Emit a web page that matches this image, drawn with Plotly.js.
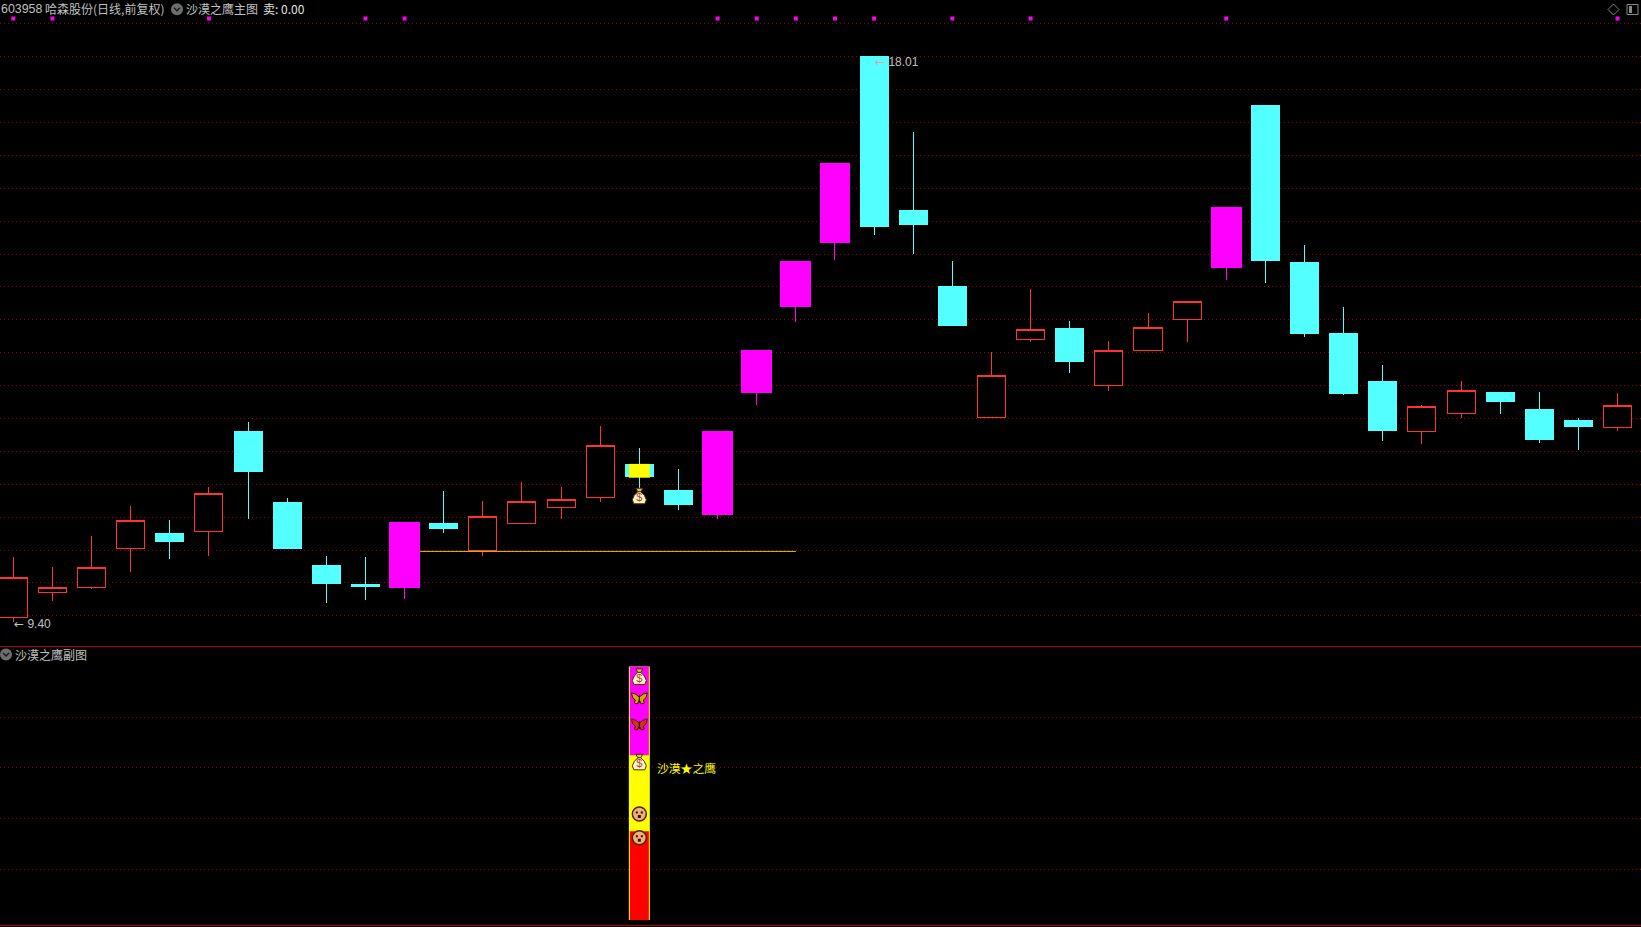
<!DOCTYPE html>
<html>
<head>
<meta charset="utf-8">
<script src="https://cdn.plot.ly/plotly-3.0.1.min.js"></script>
<style>html,body{margin:0;padding:0;background:#000;overflow:hidden}#chart{width:1641px;height:927px}
.trace.boxes path{stroke-linejoin:miter !important;shape-rendering:crispEdges}
.barlayer path{shape-rendering:crispEdges}
</style>
</head>
<body>
<div id="chart"></div>
<script>
// ---- main panel data (daily candles, forward-adjusted prices) ----
const tops    = [10.09,9.93,10.24,10.95,10.76,11.36,12.31,11.23,10.27,9.98,10.93,10.91,11.01,11.24,11.27,12.09,11.81,11.41,12.31,13.54,14.89,16.38,18.01,15.67,14.51,13.16,13.86,13.88,13.54,13.89,14.28,15.71,17.26,14.88,13.80,13.07,12.69,12.93,12.90,12.64,12.48,12.70];
const bottoms = [9.48,9.85,9.93,10.52,10.62,10.78,11.69,10.52,9.98,9.94,9.92,10.82,10.49,10.90,11.14,11.30,11.61,11.19,11.03,12.89,14.20,15.17,15.41,15.44,13.91,12.52,13.70,13.36,13.00,13.53,14.00,14.79,14.89,13.78,12.87,12.31,12.30,12.57,12.75,12.17,12.37,12.36];
const highs   = [10.39,10.24,10.71,11.17,10.96,11.46,12.45,11.29,10.41,10.39,10.93,11.40,11.25,11.53,11.46,12.39,12.05,11.73,12.31,13.54,14.89,16.38,18.01,16.86,14.89,13.51,14.47,13.98,13.68,14.10,14.28,15.71,17.26,15.14,14.20,13.31,12.71,13.07,12.90,12.90,12.51,12.89];
const lows    = [9.40,9.72,9.91,10.17,10.36,10.41,10.98,10.52,9.70,9.74,9.76,10.76,10.41,10.90,10.97,11.23,11.43,11.11,10.97,12.71,13.97,14.91,15.29,15.00,13.91,12.52,13.67,13.19,12.92,13.53,13.67,14.60,14.56,13.74,12.86,12.16,12.11,12.51,12.57,12.13,12.02,12.31];
const kinds   = ['r','r','r','r','c','r','c','c','c','c','m','c','r','r','r','r','c','c','m','m','m','m','c','c','c','r','r','c','r','r','r','m','c','c','c','c','r','r','c','c','c','r'];
const signalDays = [0,1,5,9,10,18,19,20,21,22,24,26,31,41];
const signalLevel = 18.58;
const supportDays = [10.4,20];
const supportLevels = [10.48,10.48];
const stickDay = [16];
const stickHigh = [11.81];
const stickLow = [11.60];
const mainBagDay = 16;
const mainBagLevel = 11.31;
const yearHigh = {day:22, price:18.01};
const yearLow = {day:0, price:9.40};

// ---- sub panel data ----
const bandDay = [16];
const bandUpper = {from:65,to:100};
const bandMiddle = {from:0,to:100};
const bandLower = {from:0,to:35};
const subBagLevels = [95.7,62];
const butterflyGoldLevel = 87.6;
const butterflyRedLevel = 77.3;
const faceLevels = [41.8,32.4];
const subLabelLevel = 60;

// ---- text ----
const code = '603958';
const stockName = '哈森股份(日线,前复权)';
const mainName = '沙漠之鹰主图';
const sellText = '卖: 0.00';
const subName = '沙漠之鹰副图';
const subLabel = '沙漠★之鹰';

// ---- styles and layout helpers ----
const W=1641,H=927;
const px=v=>v/W, py=v=>1-v/H;
const RED='#FF3232',CYAN='#54FFFF',MAG='#FF00FF',YEL='#FFFF00',GRAY='#C0C0C0',GRID='#990000';
const CJK='"Noto Sans CJK SC","Liberation Sans",sans-serif', NUM='"Liberation Sans",Arial,sans-serif';
const xRange=[-0.34,41.60];
const priceRange=[9.042,18.861];
const subRange=[-2.17,107.7];
const pxPrice=0.0152, pxSub=0.3946, pxDay=1/39.13;
const strokeInset=0.0076; // half of the 1px body outline, in price units

const idx=tops.map((_,i)=>i);
function candle(kind,col,fill,up){
  const s=idx.filter(i=>kinds[i]===kind);
  const inset=up&&kind==='r'?0:strokeInset;
  const T=s.map(i=>tops[i]-inset), B=s.map(i=>bottoms[i]+inset);
  const style={line:{color:col,width:1},fillcolor:fill};
  return {type:'candlestick',x:s,open:up?B:T,close:up?T:B,high:s.map(i=>highs[i]),low:s.map(i=>lows[i]),
    increasing:style,decreasing:style,whiskerwidth:0,hoverinfo:'skip',showlegend:false,zorder:1};
}
const magDays=idx.filter(i=>kinds[i]==='m');
const base={type:'scatter',hoverinfo:'skip',showlegend:false,zorder:4};
// icon glyph outlines, offsets in screen pixels around the anchor point
const bagBody=[[-1.5,5],[1.5,5],[5,1.5],[7,-3],[5.5,-7],[-5.5,-7],[-7,-3],[-5,1.5]];
const bagNeck=[[-3.5,8.5],[3.5,8.5],[1.5,5],[-1.5,5]];
const flyWings=[[-8,5],[-4,4],[0,1],[4,4],[8,5],[6.5,0],[4,-2],[5,-5],[2,-6],[0,-2],[-2,-6],[-5,-5],[-4,-2],[-6.5,0]];
const flyBody=[[0,2.5],[0,-5]];
function glyph(points,d,level,xa,ya,unit,fill,line,lw,closed){
  const pts=closed?points.concat([points[0]]):points;
  return Object.assign({},base,{mode:'lines',xaxis:xa,yaxis:ya,
    x:pts.map(p=>d+p[0]*pxDay),y:pts.map(p=>level+p[1]*unit),
    fill:closed?'toself':'none',fillcolor:fill,line:{color:line,width:lw}});
}
function bag(d,level,xa,ya,unit){
  return [
    glyph(bagNeck,d,level,xa,ya,unit,'#E8C040','#4A3000',1,true),
    glyph(bagBody,d,level,xa,ya,unit,'#FFF4C0','#4A3000',1,true),
    Object.assign({},base,{mode:'text',x:[d],y:[level-1.5*unit],xaxis:xa,yaxis:ya,text:['$'],
      textposition:'middle center',textfont:{family:NUM,size:11,color:'#A04848'}})
  ];
}
function fly(level,col){
  return [
    glyph(flyWings,bandDay[0],level,'x2','y2',pxSub,col,'#3A1800',1,true),
    glyph(flyBody,bandDay[0],level,'x2','y2',pxSub,'rgba(0,0,0,0)','#3A1800',1.2,false)
  ];
}
function face(level){
  const d=bandDay[0];
  return [
    Object.assign({},base,{mode:'markers',x:[d],y:[level],xaxis:'x2',yaxis:'y2',
      marker:{symbol:'circle',size:14,color:'#F0B078',line:{color:'#4A2800',width:1.5}}}),
    Object.assign({},base,{mode:'markers',x:[d-2.5*pxDay,d+2.5*pxDay],y:[level+1.5*pxSub,level+1.5*pxSub],xaxis:'x2',yaxis:'y2',
      marker:{symbol:'square',size:2,color:'#301000',line:{width:0}}}),
    Object.assign({},base,{mode:'markers',x:[d],y:[level-2.5*pxSub],xaxis:'x2',yaxis:'y2',
      marker:{symbol:'square',size:3,color:'#401000',line:{width:0}}})
  ];
}
const traces=[
  {type:'bar',x:magDays,y:magDays.map(i=>tops[i]-bottoms[i]),base:magDays.map(i=>bottoms[i]),width:0.79,
    marker:{color:MAG,line:{width:0}},hoverinfo:'skip',showlegend:false,zorder:0},
  candle('r',RED,'#000000',true),
  candle('c',CYAN,CYAN,false),
  candle('m',MAG,MAG,true),
  {type:'scatter',mode:'lines',x:supportDays,y:supportLevels,line:{color:'#FFC000',width:1},hoverinfo:'skip',showlegend:false,zorder:2},
  {type:'bar',x:stickDay,y:stickHigh.map((v,i)=>v-stickLow[i]),base:stickLow,width:0.536,
    marker:{color:YEL,line:{width:0}},hoverinfo:'skip',showlegend:false,zorder:3},
  {type:'scatter',mode:'markers',x:signalDays,y:signalDays.map(()=>signalLevel),
    marker:{symbol:'square',size:4,color:MAG,line:{width:0}},hoverinfo:'skip',showlegend:false,zorder:2},
  ...bag(mainBagDay,mainBagLevel,'x','y',pxPrice),
  {type:'bar',x:bandDay,y:[bandMiddle.to-bandMiddle.from],base:[bandMiddle.from],width:0.536,xaxis:'x2',yaxis:'y2',
    marker:{color:YEL,line:{width:0}},hoverinfo:'skip',showlegend:false,zorder:1},
  {type:'bar',x:bandDay,y:[bandUpper.to-bandUpper.from],base:[bandUpper.from],width:0.486,xaxis:'x2',yaxis:'y2',
    marker:{color:MAG,line:{width:0}},hoverinfo:'skip',showlegend:false,zorder:2},
  {type:'bar',x:bandDay,y:[bandLower.to-bandLower.from],base:[bandLower.from],width:0.486,xaxis:'x2',yaxis:'y2',
    marker:{color:'#FF0000',line:{width:0}},hoverinfo:'skip',showlegend:false,zorder:2},
  ...subBagLevels.flatMap(l=>bag(bandDay[0],l,'x2','y2',pxSub)),
  ...fly(butterflyGoldLevel,'#D8A800'),
  ...fly(butterflyRedLevel,'#D83020'),
  ...faceLevels.flatMap(face)
];
const note=(text,x,y,color,size,family)=>({text:text,xref:'paper',yref:'paper',x:px(x),y:py(y),xanchor:'left',yanchor:'middle',
  showarrow:false,borderpad:0,borderwidth:0,font:{color:color,size:size,family:family}});
const annotations=[
  note(code,1,9,GRAY,12.4,NUM),
  note(stockName,45,9,GRAY,12,CJK),
  note(mainName,186,9,GRAY,12,CJK),
  note(sellText,263,9,'#E0E0E0',12,CJK),
  note(subName,15,654.5,GRAY,12,CJK),
  {text:subLabel,xref:'x2',yref:'y2',x:bandDay[0]+0.42,y:subLabelLevel,xanchor:'left',yanchor:'middle',showarrow:false,borderpad:0,
    font:{color:YEL,size:11.8,family:CJK}},
  {text:'<span style="color:#E8A0A0;font-family:DejaVu Sans">←</span> '+yearHigh.price.toFixed(2),xref:'x',yref:'y',x:yearHigh.day,y:yearHigh.price,yshift:-6,xanchor:'left',yanchor:'middle',showarrow:false,borderpad:0,
    font:{color:GRAY,size:12,family:NUM}},
  {text:'<span style="font-family:DejaVu Sans">←</span> '+yearLow.price.toFixed(2),xref:'x',yref:'y',x:yearLow.day,y:yearLow.price,yshift:-2,xanchor:'left',yanchor:'middle',showarrow:false,borderpad:0,
    font:{color:GRAY,size:12,family:NUM}}
];
const circleBtn=(cx,cy)=>[
  {type:'circle',xref:'paper',yref:'paper',x0:px(cx-6),x1:px(cx+6),y0:py(cy-6),y1:py(cy+6),fillcolor:'#6E6E6E',line:{width:0}},
  {type:'path',xref:'paper',yref:'paper',path:`M ${px(cx-3)} ${py(cy-1.5)} L ${px(cx)} ${py(cy+1.5)} L ${px(cx+3)} ${py(cy-1.5)}`,line:{color:'#1A1A1A',width:1.5}}
];
const shapes=[
  {type:'line',xref:'paper',yref:'paper',x0:0,x1:1,y0:py(646.5),y1:py(646.5),line:{color:'#B00000',width:1}},
  {type:'line',xref:'paper',yref:'paper',x0:0,x1:1,y0:py(925.5),y1:py(925.5),line:{color:'#B00000',width:1}},
  ...circleBtn(177,9.3),
  ...circleBtn(6,654.5),
  {type:'path',xref:'paper',yref:'paper',path:`M ${px(1608)} ${py(9.5)} L ${px(1613.5)} ${py(4)} L ${px(1619)} ${py(9.5)} L ${px(1613.5)} ${py(15)} Z`,line:{color:'#808080',width:1}},
  {type:'rect',xref:'paper',yref:'paper',x0:px(1627),x1:px(1638),y0:py(4.5),y1:py(14.5),line:{color:'#8A8A8A',width:1}},
  {type:'rect',xref:'paper',yref:'paper',x0:px(1629),x1:px(1632),y0:py(6),y1:py(13),fillcolor:'#8A8A8A',line:{width:0}}
];
const hiddenX={range:xRange,type:'linear',showgrid:false,zeroline:false,showticklabels:false,ticks:'',showline:false,fixedrange:true};
const layout={
  width:W,height:H,margin:{l:0,r:0,t:0,b:0,pad:0},paper_bgcolor:'#000000',plot_bgcolor:'#000000',
  showlegend:false,barmode:'overlay',boxgap:0.284,boxgroupgap:0,boxmode:'overlay',
  xaxis:Object.assign({},hiddenX,{domain:[0,1],anchor:'y',rangeslider:{visible:false}}),
  yaxis:{domain:[py(646),1],range:priceRange,tick0:0,dtick:0.5,showgrid:true,gridcolor:GRID,gridwidth:1,griddash:'1px,3px',
    zeroline:false,showticklabels:false,ticks:'',showline:false,anchor:'x',fixedrange:true},
  xaxis2:Object.assign({},hiddenX,{domain:[0,1],anchor:'y2'}),
  yaxis2:{domain:[py(925.5),py(647)],range:subRange,tickmode:'array',tickvals:[20,40,60,80],showgrid:true,gridcolor:GRID,gridwidth:1,griddash:'1px,3px',
    zeroline:false,showticklabels:false,ticks:'',showline:false,anchor:'x2',fixedrange:true},
  annotations:annotations,shapes:shapes
};
Plotly.newPlot('chart',traces,layout,{displayModeBar:false,staticPlot:true,responsive:false});
</script>
</body>
</html>
